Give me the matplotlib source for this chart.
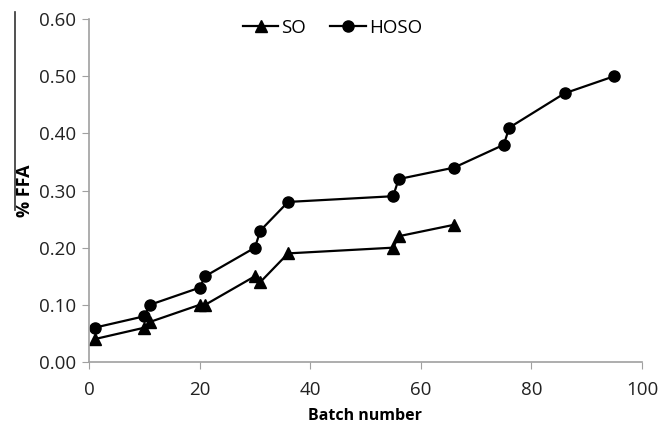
import matplotlib
matplotlib.use("Agg")
import matplotlib.pyplot as plt
from matplotlib.lines import Line2D

plt.rcParams['font.family'] = ['Open Sans', 'DejaVu Sans']

so_batch = [1, 10, 11, 20, 21, 30, 31, 36, 55, 56, 66]
so_ffa = [0.04, 0.06, 0.07, 0.10, 0.10, 0.15, 0.14, 0.19, 0.20, 0.22, 0.24]
hoso_batch = [1, 10, 11, 20, 21, 30, 31, 36, 55, 56, 66, 75, 76, 86, 95]
hoso_ffa = [0.06, 0.08, 0.10, 0.13, 0.15, 0.20, 0.23, 0.28, 0.29, 0.32, 0.34, 0.38, 0.41, 0.47, 0.50]
x_ticks = [0, 20, 40, 60, 80, 100]
y_ticks = [0.00, 0.10, 0.20, 0.30, 0.40, 0.50, 0.60]

W, H = 659, 428
fig = plt.figure(figsize=(W / 100, H / 100), dpi=100)
ax = fig.add_axes([89 / W, 1 - 362 / H, (642 - 89) / W, (362 - 19) / H])

ax.plot(so_batch, so_ffa, color='black', marker='^', markersize=8, lw=1.6, label='SO')
ax.plot(hoso_batch, hoso_ffa, color='black', marker='o', markersize=8, lw=1.6, label='HOSO')

ax.set_xlim(0, 100)
ax.set_ylim(0, 0.60)
ax.set_xticks(x_ticks)
ax.set_yticks(y_ticks)
ax.set_yticklabels([f"{v:.2f}" for v in y_ticks])
ax.tick_params(axis='both', labelsize=13.5, color='#a0a0a0', length=5, direction='out',
               labelcolor='#222222')
ax.tick_params(axis='x', pad=9)
ax.tick_params(axis='y', pad=4)
for s in ['top', 'right']:
    ax.spines[s].set_visible(False)
for s in ['left', 'bottom']:
    ax.spines[s].set_color('#a0a0a0')
    ax.spines[s].set_linewidth(1.2)

ax.set_xlabel('Batch number', fontsize=11.5, fontweight='bold', labelpad=6.5)
ax.set_ylabel('% FFA', fontsize=13, fontweight='bold')
ax.yaxis.set_label_coords(-0.1, 0.5)

ax.legend(loc='upper center', bbox_to_anchor=(0.44, 1.05), ncol=2, frameon=False,
          fontsize=13.5, handlelength=1.9, handletextpad=0.15, columnspacing=1.3)

fig.add_artist(Line2D([15 / W, 15 / W], [1 - 12 / H, 1 - 210 / H], color='#333333', lw=1.2))

fig.savefig('out.png', dpi=100)
